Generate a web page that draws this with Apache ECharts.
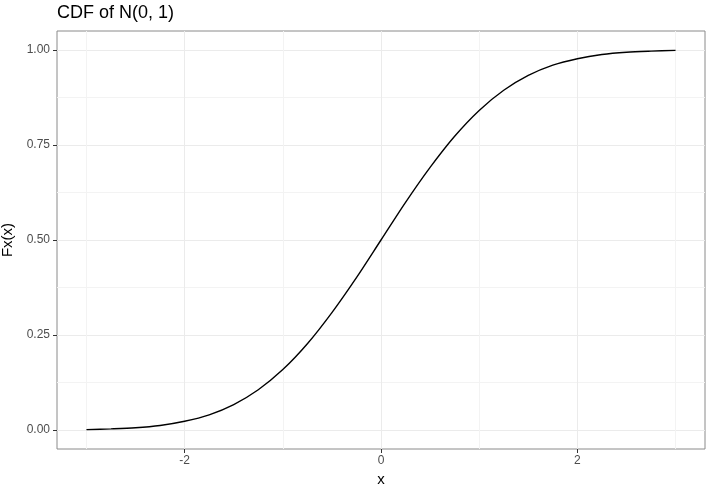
<!DOCTYPE html>
<html>
<head>
<meta charset="utf-8">
<script src="https://cdn.jsdelivr.net/npm/echarts@6/dist/echarts.min.js"></script>
<style>
  html, body { margin: 0; padding: 0; background: #fff; }
  #main { width: 713px; height: 494px; }
</style>
</head>
<body>
<div id="main"></div>
<script>
// values
const xs = [-3, -2.75, -2.5, -2.25, -2, -1.75, -1.5, -1.25, -1, -0.75, -0.5, -0.25,
  0, 0.25, 0.5, 0.75, 1, 1.25, 1.5, 1.75, 2, 2.25, 2.5, 2.75, 3]
const fx = [0.001, 0.003, 0.006, 0.012, 0.023, 0.040, 0.067, 0.106, 0.159, 0.227, 0.309, 0.401,
  0.500, 0.599, 0.691, 0.773, 0.841, 0.894, 0.933, 0.960, 0.977, 0.988, 0.994, 0.997, 0.999]
const xMajor = [-2, 0, 2]
const xMinor = [-3, -1, 1, 3]
const yMajor = [0, 0.25, 0.5, 0.75, 1]
const yMinor = [0.125, 0.375, 0.625, 0.875]

const myChart = echarts.init(document.getElementById('main'))
const font = 'Liberation Sans, Arial, sans-serif'

const baseX = {
  type: 'value', min: -3.3, max: 3.3, gridIndex: 0, position: 'bottom',
  axisLine: { show: false, onZero: false }
}
const baseY = {
  type: 'value', min: -0.05, max: 1.05, gridIndex: 0, position: 'left',
  axisLine: { show: false, onZero: false }
}

myChart.setOption({
  animation: false,
  title: {
    text: 'CDF of N(0, 1)', left: 57, top: 4, padding: 0,
    textStyle: { fontFamily: font, fontSize: 18, fontWeight: 'normal', color: '#000' }
  },
  grid: {
    left: 57, right: 8, top: 31, bottom: 45,
    containLabel: false, outerBoundsMode: 'none',
    show: true, borderColor: '#8a8a8a', borderWidth: 1, backgroundColor: '#fff'
  },
  xAxis: [
    Object.assign({}, baseX, {
      name: 'x', nameLocation: 'middle', nameGap: 22,
      nameTextStyle: { fontFamily: font, fontSize: 15, color: '#000' },
      axisTick: { show: true, length: 4, customValues: xMajor, lineStyle: { color: '#333' } },
      axisLabel: { customValues: xMajor, fontFamily: font, fontSize: 12, color: '#4d4d4d', margin: 6 },
      splitLine: { show: true, lineStyle: { color: '#ebebeb', width: 1 } }
    }),
    Object.assign({}, baseX, {
      axisTick: { show: false, customValues: xMinor },
      axisLabel: { show: false, customValues: xMinor },
      splitLine: { show: true, lineStyle: { color: '#f3f3f3', width: 1 } }
    })
  ],
  yAxis: [
    Object.assign({}, baseY, {
      name: 'Fx(x)', nameLocation: 'middle', nameGap: 36,
      nameTextStyle: { fontFamily: font, fontSize: 15, color: '#000' },
      axisTick: { show: true, length: 4, customValues: yMajor, lineStyle: { color: '#333' } },
      axisLabel: {
        customValues: yMajor, fontFamily: font, fontSize: 12, color: '#4d4d4d', margin: 7,
        formatter: v => v.toFixed(2)
      },
      splitLine: { show: true, lineStyle: { color: '#ebebeb', width: 1 } }
    }),
    Object.assign({}, baseY, {
      axisTick: { show: false, customValues: yMinor },
      axisLabel: { show: false, customValues: yMinor },
      splitLine: { show: true, lineStyle: { color: '#f3f3f3', width: 1 } }
    })
  ],
  series: [
    {
      type: 'line',
      xAxisIndex: 0, yAxisIndex: 0,
      data: xs.map((x, i) => [x, fx[i]]),
      smooth: 0.3,
      showSymbol: false,
      lineStyle: { color: '#000', width: 1.4 },
      z: 5
    }
  ]
})
</script>
</body>
</html>
